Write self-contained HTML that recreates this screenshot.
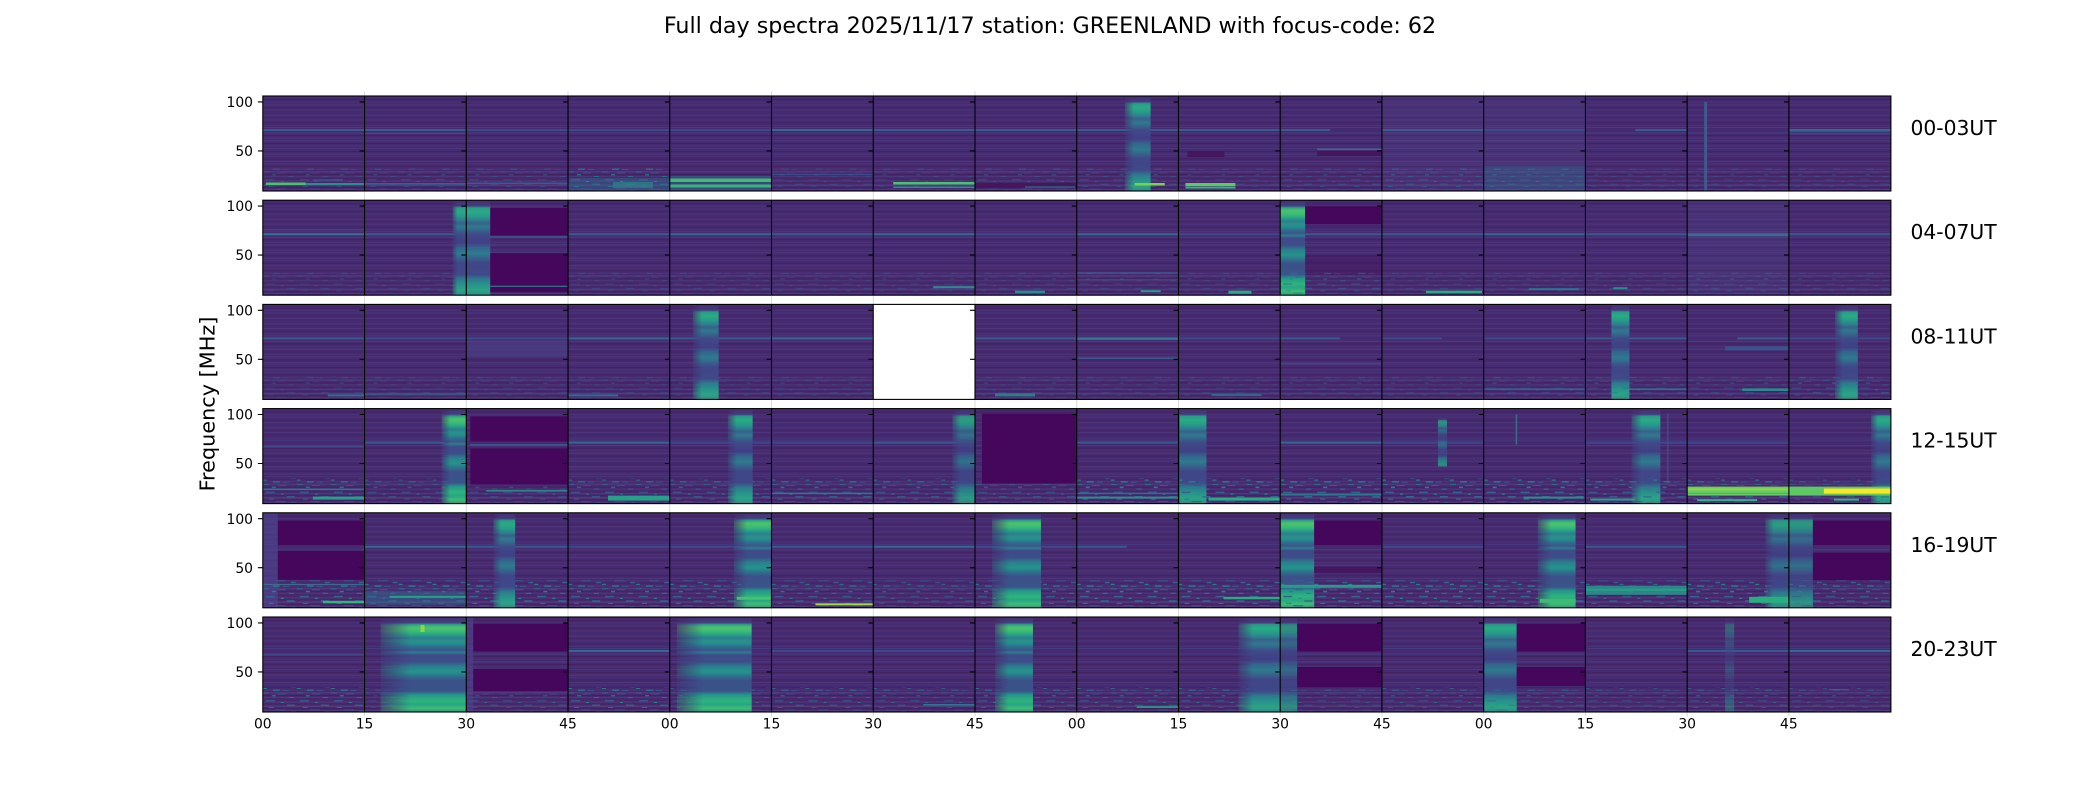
<!DOCTYPE html>
<html><head><meta charset="utf-8">
<style>
html,body{margin:0;padding:0;background:#fff;}
svg{display:block;}
text{font-family:"DejaVu Sans","Liberation Sans",sans-serif;fill:#000;}
.t{fill:url(#tx)} .b{fill:url(#bg)} .b2{fill:url(#bg2)} .d{fill:#45075b} .n{fill:url(#nz)}
.lb{fill:#33698d} .lm{fill:#3b598b} .ld{fill:#40488a} .k{fill:#43165e} .lt{fill:#55508f;opacity:.2}
</style></head><body>
<svg xmlns="http://www.w3.org/2000/svg" xmlns:xlink="http://www.w3.org/1999/xlink" width="2100" height="800" viewBox="0 0 2100 800">
<rect width="2100" height="800" fill="#fff"/>
<defs>
<pattern id="tx" patternUnits="userSpaceOnUse" width="101.74" height="95">
<rect width="102" height="95" fill="#462a70"/>
<rect y="0" width="102" height="1" fill="#4a3076"/>
<rect y="3" width="102" height="1" fill="#43215f"/>
<rect y="5.5" width="102" height="1" fill="#4b3379"/>
<rect y="8" width="102" height="1.5" fill="#4a3176"/>
<rect y="11" width="102" height="1" fill="#442462"/>
<rect y="13.5" width="102" height="1" fill="#4c3579"/>
<rect y="16" width="102" height="1" fill="#472b72"/>
<rect y="18.5" width="102" height="1.5" fill="#4b3379"/>
<rect y="21" width="102" height="1" fill="#442462"/>
<rect y="23.5" width="102" height="1" fill="#4c367b"/>
<rect y="26" width="102" height="1.5" fill="#44256a"/>
<rect y="29" width="102" height="1" fill="#4a3278"/>
<rect y="31" width="102" height="1" fill="#433a80"/>
<rect y="36.5" width="102" height="1" fill="#423e83"/>
<rect y="39" width="102" height="1" fill="#44215f"/>
<rect y="41.5" width="102" height="1" fill="#4b3378"/>
<rect y="44" width="102" height="1.5" fill="#4c367b"/>
<rect y="47" width="102" height="1" fill="#43225f"/>
<rect y="49.5" width="102" height="1" fill="#4a3278"/>
<rect y="52" width="102" height="1" fill="#4c367b"/>
<rect y="55" width="102" height="1" fill="#44235f"/>
<rect y="57.5" width="102" height="1.5" fill="#4b3479"/>
<rect y="60" width="102" height="1" fill="#493076"/>
<rect y="62.5" width="102" height="1" fill="#43205f"/>
<rect y="65" width="102" height="1" fill="#4c367b"/>
<rect y="67.5" width="102" height="1" fill="#4a3379"/>
<rect y="70" width="102" height="1" fill="#44225f"/>
<rect y="72.5" width="102" height="1" fill="#4b3479"/>
<rect y="75" width="102" height="1.5" fill="#4d387c"/>
<rect y="78" width="102" height="1" fill="#43215f"/>
<rect y="80" width="102" height="1" fill="#4b367b"/>
<rect y="82.5" width="102" height="1" fill="#45255f"/>
<rect y="84.5" width="102" height="1" fill="#4c3a7e"/>
<rect y="86.5" width="102" height="1" fill="#45245f"/>
<rect y="88.5" width="102" height="1.5" fill="#4d3b80"/>
<rect y="91" width="102" height="1" fill="#44205e"/>
<rect y="93" width="102" height="1" fill="#4c3a7e"/>
</pattern>
<pattern id="nz" patternUnits="userSpaceOnUse" width="34" height="25">
<rect x="0" y="0.5" width="6" height="1" fill="#2f6c8e"/>
<rect x="9" y="3" width="4" height="1.5" fill="#287d8e"/>
<rect x="15" y="1.5" width="8" height="1" fill="#3a598c"/>
<rect x="26" y="5" width="5" height="1" fill="#2a788e"/>
<rect x="3" y="8" width="9" height="1.5" fill="#33638d"/>
<rect x="18" y="10" width="3" height="1" fill="#21918c"/>
<rect x="24" y="12.5" width="8" height="1.5" fill="#2f6c8e"/>
<rect x="6" y="15" width="5" height="1" fill="#287d8e"/>
<rect x="13" y="17.5" width="10" height="1" fill="#3a598c"/>
<rect x="0" y="21" width="4" height="1" fill="#21918c"/>
<rect x="28" y="19" width="5" height="1.5" fill="#33638d"/>
<rect x="10" y="22.5" width="7" height="1.5" fill="#2a788e"/>
<rect x="20" y="23" width="6" height="1" fill="#3a598c"/>
</pattern>
<linearGradient id="bg" x1="0" y1="0" x2="0" y2="1">
<stop offset="0" stop-color="#47306f"/>
<stop offset="0.06" stop-color="#463a80"/>
<stop offset="0.08" stop-color="#2a9a88"/>
<stop offset="0.12" stop-color="#28ac82"/>
<stop offset="0.17" stop-color="#279a8a"/>
<stop offset="0.21" stop-color="#2e7f8e"/>
<stop offset="0.24" stop-color="#39608c"/>
<stop offset="0.28" stop-color="#2f7a8e"/>
<stop offset="0.32" stop-color="#37628c"/>
<stop offset="0.36" stop-color="#3f4a88"/>
<stop offset="0.45" stop-color="#413f86"/>
<stop offset="0.5" stop-color="#35648d"/>
<stop offset="0.56" stop-color="#2d7b8e"/>
<stop offset="0.61" stop-color="#37628c"/>
<stop offset="0.66" stop-color="#404688"/>
<stop offset="0.78" stop-color="#3f4888"/>
<stop offset="0.83" stop-color="#2e798e"/>
<stop offset="0.89" stop-color="#27948b"/>
<stop offset="0.95" stop-color="#2ba485"/>
<stop offset="1" stop-color="#2f8a8c"/>
</linearGradient>
<linearGradient id="bg2" x1="0" y1="0" x2="0" y2="1">
<stop offset="0" stop-color="#473070"/>
<stop offset="0.06" stop-color="#443f84"/>
<stop offset="0.08" stop-color="#2ba285"/>
<stop offset="0.11" stop-color="#4cc26c"/>
<stop offset="0.15" stop-color="#3dbb74"/>
<stop offset="0.19" stop-color="#24a08a"/>
<stop offset="0.22" stop-color="#2e7d8e"/>
<stop offset="0.25" stop-color="#2a8f8b"/>
<stop offset="0.28" stop-color="#228f8d"/>
<stop offset="0.31" stop-color="#2f6f8e"/>
<stop offset="0.35" stop-color="#3b548b"/>
<stop offset="0.37" stop-color="#2c7f8e"/>
<stop offset="0.40" stop-color="#3f4b89"/>
<stop offset="0.47" stop-color="#3e4c89"/>
<stop offset="0.52" stop-color="#2b7e8e"/>
<stop offset="0.58" stop-color="#24948b"/>
<stop offset="0.62" stop-color="#2d738e"/>
<stop offset="0.67" stop-color="#3c5089"/>
<stop offset="0.78" stop-color="#3a5489"/>
<stop offset="0.82" stop-color="#24968b"/>
<stop offset="0.88" stop-color="#2fb47c"/>
<stop offset="0.92" stop-color="#26a685"/>
<stop offset="0.96" stop-color="#3fbc73"/>
<stop offset="1" stop-color="#2a988a"/>
</linearGradient>
<linearGradient id="hf" x1="0" y1="0" x2="1" y2="0">
<stop offset="0" stop-color="#fff" stop-opacity=".25"/>
<stop offset=".35" stop-color="#fff" stop-opacity="1"/>
<stop offset="1" stop-color="#fff" stop-opacity="1"/>
</linearGradient>
<mask id="fade" maskContentUnits="objectBoundingBox"><rect width="1" height="1" fill="url(#hf)"/></mask>
<g id="grid">
<path d="M364.54 -4.5v4.5M466.28 -4.5v4.5M568.02 -4.5v4.5M669.76 -4.5v4.5M771.5 -4.5v4.5M873.24 -4.5v4.5M974.98 -4.5v4.5M1076.72 -4.5v4.5M1178.46 -4.5v4.5M1280.2 -4.5v4.5M1381.94 -4.5v4.5M1483.68 -4.5v4.5M1585.42 -4.5v4.5M1687.16 -4.5v4.5M1788.9 -4.5v4.5M364.54 95v4.5M466.28 95v4.5M568.02 95v4.5M669.76 95v4.5M771.5 95v4.5M873.24 95v4.5M974.98 95v4.5M1076.72 95v4.5M1178.46 95v4.5M1280.2 95v4.5M1381.94 95v4.5M1483.68 95v4.5M1585.42 95v4.5M1687.16 95v4.5M1788.9 95v4.5" stroke="#d9d9d9" stroke-width="1"/>
<rect x="262.8" y="0" width="1628.1" height="95" fill="none" stroke="#000" stroke-width="1.1"/>
<path d="M364.54 0v95M466.28 0v95M568.02 0v95M669.76 0v95M771.5 0v95M873.24 0v95M974.98 0v95M1076.72 0v95M1178.46 0v95M1280.2 0v95M1381.94 0v95M1483.68 0v95M1585.42 0v95M1687.16 0v95M1788.9 0v95" stroke="#000" stroke-width="1.1"/>
<path d="M257.9 5.9h4.9M257.9 54.9h4.9M359.64 5.9h4.9M359.64 54.9h4.9M461.38 5.9h4.9M461.38 54.9h4.9M563.12 5.9h4.9M563.12 54.9h4.9M664.86 5.9h4.9M664.86 54.9h4.9M766.6 5.9h4.9M766.6 54.9h4.9M868.34 5.9h4.9M868.34 54.9h4.9M970.08 5.9h4.9M970.08 54.9h4.9M1071.82 5.9h4.9M1071.82 54.9h4.9M1173.56 5.9h4.9M1173.56 54.9h4.9M1275.3 5.9h4.9M1275.3 54.9h4.9M1377.04 5.9h4.9M1377.04 54.9h4.9M1478.78 5.9h4.9M1478.78 54.9h4.9M1580.52 5.9h4.9M1580.52 54.9h4.9M1682.26 5.9h4.9M1682.26 54.9h4.9M1784 5.9h4.9M1784 54.9h4.9" stroke="#000" stroke-width="1.1"/>
</g>
</defs>

<text x="1050" y="33" font-size="22.2" text-anchor="middle">Full day spectra 2025/11/17 station: GREENLAND with focus-code: 62</text>

<!-- ROW 0 -->
<g transform="translate(262.8 96)"><rect class="t" width="101.74" height="95"/><rect class="lm" y="33" width="101.74" height="2"/><rect class="n" y="72" width="101.74" height="23" opacity=".4"/><rect x="3" y="86.5" width="40" height="2.5" fill="#4ac16d"/><rect x="43" y="87" width="58" height="2" fill="#2a8f8b"/><rect x="50" y="83.5" width="30" height="1" fill="#31688e"/></g>
<g transform="translate(364.54 96)"><rect class="t" width="101.74" height="95"/><rect class="lm" y="33" width="101.74" height="2"/><rect class="ld" y="37" width="101.74" height="1"/><rect class="n" y="72" width="101.74" height="23" opacity=".4"/><rect y="87" width="101.74" height="1.5" fill="#33638d"/></g>
<g transform="translate(466.28 96)"><rect class="t" width="101.74" height="95"/><rect class="ld" y="33" width="101.74" height="2"/><rect class="n" y="72" width="101.74" height="23" opacity=".4"/><rect y="86.5" width="101.74" height="1.5" fill="#3a598c"/></g>
<g transform="translate(568.02 96)"><rect class="t" width="101.74" height="95"/><rect class="ld" y="33" width="101.74" height="2"/><rect y="82" width="101.74" height="13" fill="#2f6c8e" opacity=".45"/><rect class="n" y="72" width="101.74" height="23" opacity=".8"/><rect x="45" y="86" width="40" height="6" fill="#2a8f8b" opacity=".6"/></g>
<g transform="translate(669.76 96)"><rect class="t" width="101.74" height="95"/><rect class="ld" y="33" width="101.74" height="2"/><rect y="80" width="101.74" height="15" fill="#31688e" opacity=".5"/><rect y="82.5" width="101.74" height="3.5" fill="#3fbc73"/><rect y="88.5" width="101.74" height="3" fill="#35b779"/></g>
<g transform="translate(771.5 96)"><rect class="t" width="101.74" height="95"/><rect class="lb" y="33" width="101.74" height="2"/><rect y="78" width="101.74" height="1" fill="#3f4a89"/><rect class="n" y="72" width="101.74" height="23" opacity=".3"/></g>
<g transform="translate(873.24 96)"><rect class="t" width="101.74" height="95"/><rect class="lm" y="33" width="101.74" height="2"/><rect class="n" y="72" width="101.74" height="23" opacity=".3"/><rect x="20" y="86" width="81.74" height="2.5" fill="#4ac16d"/><rect x="20" y="90.5" width="81.74" height="1.5" fill="#2a8f8b"/></g>
<g transform="translate(974.98 96)"><rect class="t" width="101.74" height="95"/><rect class="lm" y="33" width="101.74" height="2"/><rect class="n" y="72" width="101.74" height="23" opacity=".4"/><rect class="k" y="87" width="101.74" height="5"/><rect x="50" y="90" width="50" height="2" fill="#2a788e" opacity=".6"/></g>
<g transform="translate(1076.72 96)"><rect class="t" width="101.74" height="95"/><rect class="lm" y="33" width="101.74" height="2"/><rect class="n" y="72" width="101.74" height="23" opacity=".4"/><rect class="b" x="48" width="26" height="95" mask="url(#fade)"/><rect x="58" y="87" width="30" height="2.5" fill="#7ad151"/></g>
<g transform="translate(1178.46 96)"><rect class="t" width="101.74" height="95"/><rect class="lm" y="33" width="101.74" height="2"/><rect class="k" x="9" y="55" width="37" height="6"/><rect class="n" y="72" width="101.74" height="23" opacity=".3"/><rect x="7" y="87" width="50" height="3" fill="#5ec962"/><rect x="7" y="90.5" width="50" height="2" fill="#35b779"/></g>
<g transform="translate(1280.2 96)"><rect class="t" width="101.74" height="95"/><rect class="lm" y="33" width="50" height="2"/><rect x="37" y="52.5" width="64.74" height="1.5" fill="#3b6a8c"/><rect class="k" x="37" y="55" width="64.74" height="5"/><rect class="n" y="72" width="101.74" height="23" opacity=".4"/></g>
<g transform="translate(1381.94 96)"><rect class="t" width="101.74" height="95"/><rect class="lt" width="101.74" height="95"/><rect class="lm" y="33" width="101.74" height="2"/><rect class="n" y="72" width="101.74" height="23" opacity=".5"/></g>
<g transform="translate(1483.68 96)"><rect class="t" width="101.74" height="95"/><rect class="lt" width="101.74" height="95"/><rect y="70" width="101.74" height="25" fill="#2f6c8e" opacity=".35"/><rect class="ld" y="33" width="101.74" height="2"/><rect class="n" y="72" width="101.74" height="23" opacity=".5"/></g>
<g transform="translate(1585.42 96)"><rect class="t" width="101.74" height="95"/><rect class="lm" x="50" y="33" width="51.74" height="2"/><rect class="n" y="72" width="101.74" height="23" opacity=".3"/></g>
<g transform="translate(1687.16 96)"><rect class="t" width="101.74" height="95"/><rect x="17" y="6" width="3" height="89" fill="#3d5a8b"/><rect class="n" y="72" width="101.74" height="23" opacity=".3"/></g>
<g transform="translate(1788.9 96)"><rect class="t" width="101.74" height="95"/><rect class="lb" y="33" width="101.74" height="2.5"/><rect class="ld" y="37.5" width="101.74" height="1"/><rect class="n" y="72" width="101.74" height="23" opacity=".3"/></g>

<!-- ROW 1 -->
<g transform="translate(262.8 200.2)"><rect class="t" width="101.74" height="95"/><rect y="33" width="101.74" height="2" fill="#347290"/><rect class="ld" y="29" width="101.74" height="1"/><rect class="n" y="72" width="101.74" height="23" opacity=".3"/></g>
<g transform="translate(364.54 200.2)"><rect class="t" width="101.74" height="95"/><rect class="lm" y="33" width="101.74" height="2"/><rect class="n" y="72" width="101.74" height="23" opacity=".3"/><rect class="b" x="88" width="13.74" height="95" mask="url(#fade)"/></g>
<g transform="translate(466.28 200.2)"><rect class="t" width="101.74" height="95"/><rect class="b" width="24" height="95"/><rect class="d" x="24" y="7.8" width="77.74" height="27.5"/><rect class="d" x="24" y="52.9" width="77.74" height="39"/><rect x="24" y="85.5" width="77.74" height="1.2" fill="#2a788e"/><rect class="lm" x="24" y="36" width="77.74" height="1.5"/></g>
<g transform="translate(568.02 200.2)"><rect class="t" width="101.74" height="95"/><rect class="lm" y="33" width="101.74" height="2"/><rect class="n" y="72" width="101.74" height="23" opacity=".3"/></g>
<g transform="translate(669.76 200.2)"><rect class="t" width="101.74" height="95"/><rect class="lb" y="33" width="101.74" height="2"/><rect class="n" y="72" width="101.74" height="23" opacity=".3"/></g>
<g transform="translate(771.5 200.2)"><rect class="t" width="101.74" height="95"/><rect class="lm" y="33" width="101.74" height="2"/><rect class="n" y="72" width="101.74" height="23" opacity=".3"/></g>
<g transform="translate(873.24 200.2)"><rect class="t" width="101.74" height="95"/><rect class="lb" y="33" width="101.74" height="2"/><rect class="n" y="72" width="101.74" height="23" opacity=".3"/><rect x="60" y="86" width="41.74" height="2" fill="#2a8f8b"/></g>
<g transform="translate(974.98 200.2)"><rect class="t" width="101.74" height="95"/><rect class="ld" y="33" width="101.74" height="2"/><rect class="n" y="72" width="101.74" height="23" opacity=".3"/><rect x="40" y="90.5" width="30" height="2.5" fill="#21918c"/></g>
<g transform="translate(1076.72 200.2)"><rect class="t" width="101.74" height="95"/><rect class="lb" y="33" width="101.74" height="2"/><rect y="72" width="101.74" height="1.5" fill="#41548b"/><rect y="79" width="101.74" height="1" fill="#3f4a89"/><rect class="n" y="72" width="101.74" height="23" opacity=".3"/><rect x="64" y="90" width="20" height="2" fill="#2a9a88"/></g>
<g transform="translate(1178.46 200.2)"><rect class="t" width="101.74" height="95"/><rect class="ld" y="33" width="101.74" height="2"/><rect class="n" y="72" width="101.74" height="23" opacity=".3"/><rect x="50" y="90.5" width="23" height="3" fill="#27ad81"/></g>
<g transform="translate(1280.2 200.2)"><rect class="t" width="101.74" height="95"/><rect class="b2" width="25" height="95"/><rect class="d" x="25" y="6" width="76.74" height="18"/><rect class="lm" x="25" y="33" width="76.74" height="2"/><rect class="k" x="25" y="55" width="76.74" height="20" opacity=".5"/><rect class="n" y="72" width="101.74" height="23" opacity=".5"/></g>
<g transform="translate(1381.94 200.2)"><rect class="t" width="101.74" height="95"/><rect class="lm" y="33" width="101.74" height="2"/><rect class="n" y="72" width="101.74" height="23" opacity=".3"/><rect x="44" y="90.5" width="56" height="2.5" fill="#26ad81"/></g>
<g transform="translate(1483.68 200.2)"><rect class="t" width="101.74" height="95"/><rect class="lb" y="33" width="101.74" height="2"/><rect class="n" y="72" width="101.74" height="23" opacity=".3"/><rect x="45" y="88" width="50" height="2" fill="#2a788e"/></g>
<g transform="translate(1585.42 200.2)"><rect class="t" width="101.74" height="95"/><rect class="lm" y="33" width="101.74" height="2"/><rect class="n" y="72" width="101.74" height="23" opacity=".3"/><rect x="28" y="87" width="14" height="2" fill="#2a8f8b"/></g>
<g transform="translate(1687.16 200.2)"><rect class="t" width="101.74" height="95"/><rect class="lt" width="101.74" height="95"/><rect y="33" width="101.74" height="3" fill="#3a6a8e"/><rect class="n" y="72" width="101.74" height="23" opacity=".4"/></g>
<g transform="translate(1788.9 200.2)"><rect class="t" width="101.74" height="95"/><rect class="lm" y="33" width="101.74" height="2"/><rect class="n" y="72" width="101.74" height="23" opacity=".3"/></g>

<!-- ROW 2 -->
<g transform="translate(262.8 304.4)"><rect class="t" width="101.74" height="95"/><rect class="lm" y="33" width="101.74" height="2"/><rect class="n" y="72" width="101.74" height="23" opacity=".3"/><rect x="65" y="90" width="36.74" height="2" fill="#2f6c8e"/></g>
<g transform="translate(364.54 304.4)"><rect class="t" width="101.74" height="95"/><rect class="ld" y="33" width="101.74" height="2"/><rect y="89" width="101.74" height="2" fill="#33638d" opacity=".7"/><rect class="n" y="72" width="101.74" height="23" opacity=".3"/></g>
<g transform="translate(466.28 304.4)"><rect class="t" width="101.74" height="95"/><rect y="36" width="101.74" height="16" fill="#4b4287" opacity=".6"/><rect class="ld" y="33" width="101.74" height="2"/><rect class="n" y="72" width="101.74" height="23" opacity=".3"/></g>
<g transform="translate(568.02 304.4)"><rect class="t" width="101.74" height="95"/><rect class="lb" y="33" width="101.74" height="2"/><rect x="0" y="90" width="50" height="2" fill="#31688e"/><rect class="n" y="72" width="101.74" height="23" opacity=".3"/></g>
<g transform="translate(669.76 304.4)"><rect class="t" width="101.74" height="95"/><rect class="lm" y="33" width="101.74" height="2"/><rect class="n" y="72" width="101.74" height="23" opacity=".3"/><rect class="b" x="23" width="26" height="95" mask="url(#fade)"/></g>
<g transform="translate(771.5 304.4)"><rect class="t" width="101.74" height="95"/><rect class="lb" y="33" width="101.74" height="2"/><rect class="n" y="72" width="101.74" height="23" opacity=".3"/></g>
<g transform="translate(873.24 304.4)"><rect width="101.74" height="95" fill="#fff"/></g>
<g transform="translate(974.98 304.4)"><rect class="t" width="101.74" height="95"/><rect class="lm" y="33" width="101.74" height="2"/><rect class="n" y="72" width="101.74" height="23" opacity=".3"/><rect x="20" y="89" width="40" height="3" fill="#2a8f8b" opacity=".8"/></g>
<g transform="translate(1076.72 304.4)"><rect class="t" width="101.74" height="95"/><rect y="33" width="101.74" height="2.5" fill="#2f7a8e"/><rect y="53" width="101.74" height="1.5" fill="#3b5a8b"/><rect class="n" y="72" width="101.74" height="23" opacity=".3"/></g>
<g transform="translate(1178.46 304.4)"><rect class="t" width="101.74" height="95"/><rect class="ld" y="33" width="101.74" height="2"/><rect x="33" y="89.5" width="50" height="2" fill="#31688e"/><rect class="n" y="72" width="101.74" height="23" opacity=".3"/></g>
<g transform="translate(1280.2 304.4)"><rect class="t" width="101.74" height="95"/><rect class="lm" y="33" width="60" height="2"/><rect y="59" width="101.74" height="1" fill="#3f4c89"/><rect class="n" y="72" width="101.74" height="23" opacity=".3"/></g>
<g transform="translate(1381.94 304.4)"><rect class="t" width="101.74" height="95"/><rect class="ld" y="33" width="60" height="2"/><rect class="n" y="72" width="101.74" height="23" opacity=".3"/></g>
<g transform="translate(1483.68 304.4)"><rect class="t" width="101.74" height="95"/><rect class="ld" y="33" width="101.74" height="2"/><rect y="84" width="101.74" height="1.5" fill="#31688e"/><rect class="n" y="72" width="101.74" height="23" opacity=".4"/></g>
<g transform="translate(1585.42 304.4)"><rect class="t" width="101.74" height="95"/><rect class="lm" y="33" width="101.74" height="2"/><rect class="b" x="26" width="18" height="95"/><rect x="44" y="84" width="57.74" height="1.5" fill="#2a788e"/><rect class="n" y="72" width="101.74" height="23" opacity=".4"/></g>
<g transform="translate(1687.16 304.4)"><rect class="t" width="101.74" height="95"/><rect class="lm" x="50" y="33" width="51.74" height="2"/><rect x="38" y="42" width="63.74" height="4" fill="#3b528b"/><rect x="55" y="84" width="46.74" height="2.5" fill="#2a8f8b"/><rect class="n" y="72" width="101.74" height="23" opacity=".4"/></g>
<g transform="translate(1788.9 304.4)"><rect class="t" width="101.74" height="95"/><rect class="ld" y="33" width="101.74" height="2"/><rect class="n" y="72" width="101.74" height="23" opacity=".5"/><rect class="b" x="46" width="23" height="95" mask="url(#fade)"/></g>

<!-- ROW 3 -->
<g transform="translate(262.8 408.6)"><rect class="t" width="101.74" height="95"/><rect class="ld" y="37" width="101.74" height="2"/><rect y="80" width="101.74" height="1.5" fill="#2a788e"/><rect class="n" y="70" width="101.74" height="25" opacity=".8"/><rect x="50" y="88" width="51.74" height="3" fill="#25a18a"/></g>
<g transform="translate(364.54 408.6)"><rect class="t" width="101.74" height="95"/><rect class="lm" y="33" width="80" height="2"/><rect class="n" y="70" width="101.74" height="25" opacity=".6"/><rect class="b2" x="77" width="24.74" height="95" mask="url(#fade)"/></g>
<g transform="translate(466.28 408.6)"><rect class="t" width="101.74" height="95"/><rect class="d" x="4" y="7.8" width="97.74" height="25"/><rect class="d" x="4" y="40" width="97.74" height="36"/><rect class="lm" x="4" y="35.5" width="97.74" height="1.5"/><rect class="n" y="78" width="101.74" height="17" opacity=".5"/><rect x="20" y="81.5" width="81.74" height="1.5" fill="#2a8f8b"/></g>
<g transform="translate(568.02 408.6)"><rect class="t" width="101.74" height="95"/><rect class="lb" y="33" width="101.74" height="2"/><rect class="n" y="70" width="101.74" height="25" opacity=".7"/><rect x="40" y="87" width="61.74" height="5" fill="#25a18a"/></g>
<g transform="translate(669.76 408.6)"><rect class="t" width="101.74" height="95"/><rect class="ld" y="33" width="101.74" height="2"/><rect class="n" y="70" width="101.74" height="25" opacity=".7"/><rect class="b" x="58" width="25" height="95" mask="url(#fade)"/></g>
<g transform="translate(771.5 408.6)"><rect class="t" width="101.74" height="95"/><rect class="ld" y="33" width="101.74" height="2"/><rect y="84" width="101.74" height="1.5" fill="#2a788e"/><rect class="n" y="70" width="101.74" height="25" opacity=".8"/></g>
<g transform="translate(873.24 408.6)"><rect class="t" width="101.74" height="95"/><rect class="lm" y="33" width="101.74" height="2"/><rect class="n" y="70" width="101.74" height="25" opacity=".7"/><rect class="b" x="79" width="22.74" height="95" opacity=".9" mask="url(#fade)"/></g>
<g transform="translate(974.98 408.6)"><rect class="t" width="101.74" height="95"/><rect class="d" x="7" y="5" width="94.74" height="70"/><rect class="n" y="75" width="101.74" height="20" opacity=".6"/></g>
<g transform="translate(1076.72 408.6)"><rect class="t" width="101.74" height="95"/><rect class="lm" y="33" width="101.74" height="2"/><rect class="n" y="70" width="101.74" height="25"/><rect y="84" width="101.74" height="1.5" fill="#31688e"/><rect y="88" width="101.74" height="2" fill="#2a8f8b"/></g>
<g transform="translate(1178.46 408.6)"><rect class="t" width="101.74" height="95"/><rect class="b" x="1" width="27" height="95"/><rect class="n" y="70" width="101.74" height="25"/><rect x="30" y="89" width="71.74" height="3" fill="#27ad81"/></g>
<g transform="translate(1280.2 408.6)"><rect class="t" width="101.74" height="95"/><rect class="lb" y="33" width="101.74" height="2"/><rect class="n" y="70" width="101.74" height="25"/><rect y="85" width="101.74" height="2" fill="#2a788e"/></g>
<g transform="translate(1381.94 408.6)"><rect class="t" width="101.74" height="95"/><rect class="ld" y="33" width="101.74" height="2"/><rect class="b" x="56" y="8" width="9" height="50" opacity=".8"/><rect class="n" y="70" width="101.74" height="25"/></g>
<g transform="translate(1483.68 408.6)"><rect class="t" width="101.74" height="95"/><rect x="32" y="6" width="1.5" height="30" fill="#3b6a8c"/><rect class="n" y="70" width="101.74" height="25"/><rect x="40" y="88" width="60" height="2" fill="#2a8f8b"/></g>
<g transform="translate(1585.42 408.6)"><rect class="t" width="101.74" height="95"/><rect class="ld" y="33" width="101.74" height="2"/><rect class="b" x="46" width="29" height="95" mask="url(#fade)"/><rect x="82" y="5" width="1" height="70" fill="#3b5a8b"/><rect class="n" y="70" width="101.74" height="25" opacity=".8"/><rect x="5" y="90" width="45" height="2" fill="#25a18a"/></g>
<g transform="translate(1687.16 408.6)"><rect class="t" width="101.74" height="95"/><rect class="ld" y="33" width="101.74" height="2"/><rect class="n" y="70" width="101.74" height="25" opacity=".8"/><rect y="78" width="101.74" height="9" fill="#6ccd5a"/><rect y="80" width="101.74" height="1.5" fill="#a2da37" opacity=".8"/><rect y="84" width="101.74" height="1.5" fill="#3fbc73"/><rect x="10" y="90.5" width="60" height="2" fill="#2fb47c"/></g>
<g transform="translate(1788.9 408.6)"><rect class="t" width="101.74" height="95"/><rect class="b" x="82" width="19.74" height="95" mask="url(#fade)"/><rect class="n" y="70" width="101.74" height="25" opacity=".5"/><rect y="78" width="101.74" height="9" fill="#5ec962"/><rect x="35" y="80" width="66.74" height="5" fill="#fde725"/><rect x="45" y="90" width="25" height="2" fill="#2fb47c"/></g>

<!-- ROW 4 -->
<g transform="translate(262.8 512.8)"><rect class="t" width="101.74" height="95"/><rect width="15" height="95" fill="#4f4690" opacity=".6"/><rect class="d" x="15" y="7.8" width="86.74" height="24.5"/><rect class="d" x="15" y="38" width="86.74" height="29"/><rect class="n" y="67" width="101.74" height="28"/><rect y="71" width="101.74" height="1.2" fill="#3b6a8c"/><rect x="60" y="88" width="41.74" height="2.5" fill="#2fb47c"/></g>
<g transform="translate(364.54 512.8)"><rect class="t" width="101.74" height="95"/><rect class="lb" y="33" width="101.74" height="2"/><rect class="n" y="67" width="101.74" height="28"/><rect y="78" width="101.74" height="14" fill="#2f6c8e" opacity=".5"/><rect x="25" y="83" width="76.74" height="2" fill="#25a18a"/></g>
<g transform="translate(466.28 512.8)"><rect class="t" width="101.74" height="95"/><rect class="lm" y="33" width="101.74" height="2"/><rect class="n" y="67" width="101.74" height="28"/><rect class="b" x="27" width="22" height="95" mask="url(#fade)"/></g>
<g transform="translate(568.02 512.8)"><rect class="t" width="101.74" height="95"/><rect class="ld" y="33" width="101.74" height="2"/><rect class="n" y="67" width="101.74" height="28" opacity=".9"/></g>
<g transform="translate(669.76 512.8)"><rect class="t" width="101.74" height="95"/><rect class="ld" y="33" width="101.74" height="2"/><rect class="n" y="67" width="101.74" height="28" opacity=".9"/><rect class="b2" x="64" width="37.74" height="95" mask="url(#fade)"/><rect x="67" y="84" width="34.74" height="3" fill="#47c06f"/></g>
<g transform="translate(771.5 512.8)"><rect class="t" width="101.74" height="95"/><rect class="lm" y="33" width="101.74" height="2"/><rect class="n" y="67" width="101.74" height="28" opacity=".8"/><rect x="44" y="90.5" width="57.74" height="2" fill="#a2da37"/></g>
<g transform="translate(873.24 512.8)"><rect class="t" width="101.74" height="95"/><rect class="lb" y="33" width="101.74" height="2"/><rect class="n" y="67" width="101.74" height="28" opacity=".6"/></g>
<g transform="translate(974.98 512.8)"><rect class="t" width="101.74" height="95"/><rect class="ld" y="33" width="101.74" height="2"/><rect class="n" y="67" width="101.74" height="28" opacity=".8"/><rect class="b2" x="17" width="49" height="95" mask="url(#fade)"/></g>
<g transform="translate(1076.72 512.8)"><rect class="t" width="101.74" height="95"/><rect class="lm" y="33" width="50" height="2"/><rect class="n" y="67" width="101.74" height="28"/></g>
<g transform="translate(1178.46 512.8)"><rect class="t" width="101.74" height="95"/><rect class="n" y="67" width="101.74" height="28"/><rect x="45" y="84" width="56.74" height="2.5" fill="#27ad81"/></g>
<g transform="translate(1280.2 512.8)"><rect class="t" width="101.74" height="95"/><rect class="b2" width="34" height="95"/><rect class="d" x="34" y="7.8" width="67.74" height="24.5"/><rect class="k" x="34" y="54" width="67.74" height="6"/><rect class="n" y="67" width="101.74" height="28"/><rect y="72" width="101.74" height="3" fill="#2a9a88"/></g>
<g transform="translate(1381.94 512.8)"><rect class="t" width="101.74" height="95"/><rect class="ld" y="33" width="101.74" height="2"/><rect class="n" y="67" width="101.74" height="28"/></g>
<g transform="translate(1483.68 512.8)"><rect class="t" width="101.74" height="95"/><rect class="n" y="67" width="101.74" height="28"/><rect class="b2" x="54" width="38" height="95" mask="url(#fade)"/><rect x="56" y="86" width="36" height="4" fill="#3fbc73"/></g>
<g transform="translate(1585.42 512.8)"><rect class="t" width="101.74" height="95"/><rect class="lm" y="33" width="101.74" height="2"/><rect class="n" y="67" width="101.74" height="28" opacity=".8"/><rect y="73" width="101.74" height="9" fill="#2a8f8b" opacity=".9"/><rect y="76" width="101.74" height="2" fill="#22a884" opacity=".8"/></g>
<g transform="translate(1687.16 512.8)"><rect class="t" width="101.74" height="95"/><rect class="n" y="67" width="101.74" height="28"/><rect class="b" x="78" width="23.74" height="95" opacity=".9" mask="url(#fade)"/><rect x="62" y="84" width="39.74" height="6" fill="#29af7f"/></g>
<g transform="translate(1788.9 512.8)"><rect class="t" width="101.74" height="95"/><rect class="b" width="24" height="95" opacity=".85"/><rect class="d" x="24" y="7.8" width="77.74" height="24.5"/><rect class="d" x="24" y="40" width="77.74" height="27.5"/><rect class="n" y="67" width="101.74" height="28" opacity=".8"/></g>

<!-- ROW 5 -->
<g transform="translate(262.8 617)"><rect class="t" width="101.74" height="95"/><rect class="ld" y="37" width="101.74" height="1.5"/><rect class="n" y="70" width="101.74" height="25" opacity=".8"/></g>
<g transform="translate(364.54 617)"><rect class="t" width="101.74" height="95"/><rect class="n" y="70" width="101.74" height="25" opacity=".3"/><rect class="b2" x="16" width="85.74" height="95" mask="url(#fade)"/><rect x="56" y="8" width="4" height="7" fill="#a2da37" opacity=".8"/></g>
<g transform="translate(466.28 617)"><rect class="t" width="101.74" height="95"/><rect width="7" height="95" fill="#4f4690" opacity=".5"/><rect class="d" x="7" y="6.5" width="94.74" height="28"/><rect class="d" x="7" y="52" width="94.74" height="22"/><rect class="n" y="76" width="101.74" height="19" opacity=".5"/></g>
<g transform="translate(568.02 617)"><rect class="t" width="101.74" height="95"/><rect class="lb" y="33" width="101.74" height="2"/><rect class="n" y="70" width="101.74" height="25" opacity=".8"/></g>
<g transform="translate(669.76 617)"><rect class="t" width="101.74" height="95"/><rect class="n" y="70" width="101.74" height="25" opacity=".5"/><rect class="b2" x="7" width="75" height="95" mask="url(#fade)"/></g>
<g transform="translate(771.5 617)"><rect class="t" width="101.74" height="95"/><rect class="ld" y="33" width="101.74" height="2"/><rect class="n" y="70" width="101.74" height="25" opacity=".6"/></g>
<g transform="translate(873.24 617)"><rect class="t" width="101.74" height="95"/><rect class="ld" y="33" width="101.74" height="2"/><rect x="50" y="87" width="51.74" height="1.5" fill="#2a788e"/><rect class="n" y="70" width="101.74" height="25" opacity=".5"/></g>
<g transform="translate(974.98 617)"><rect class="t" width="101.74" height="95"/><rect class="n" y="70" width="101.74" height="25" opacity=".6"/><rect class="b2" x="20" width="38" height="95" mask="url(#fade)"/></g>
<g transform="translate(1076.72 617)"><rect class="t" width="101.74" height="95"/><rect class="n" y="70" width="101.74" height="25" opacity=".6"/><rect x="60" y="89" width="41.74" height="2" fill="#2a8f8b"/></g>
<g transform="translate(1178.46 617)"><rect class="t" width="101.74" height="95"/><rect class="n" y="70" width="101.74" height="25" opacity=".6"/><rect class="b" x="60" width="41.74" height="95" mask="url(#fade)"/></g>
<g transform="translate(1280.2 617)"><rect class="t" width="101.74" height="95"/><rect class="b" width="17" height="95" opacity=".8"/><rect class="d" x="17" y="6.5" width="84.74" height="28"/><rect class="d" x="17" y="50" width="84.74" height="20"/><rect class="n" y="72" width="101.74" height="23" opacity=".4"/></g>
<g transform="translate(1381.94 617)"><rect class="t" width="101.74" height="95"/><rect class="n" y="70" width="101.74" height="25" opacity=".5"/></g>
<g transform="translate(1483.68 617)"><rect class="t" width="101.74" height="95"/><rect class="b" width="33" height="95"/><rect class="d" x="33" y="6.5" width="68.74" height="28"/><rect class="d" x="33" y="50" width="68.74" height="19"/><rect class="n" y="72" width="101.74" height="23" opacity=".5"/></g>
<g transform="translate(1585.42 617)"><rect class="t" width="101.74" height="95"/><rect class="n" y="70" width="101.74" height="25" opacity=".4"/></g>
<g transform="translate(1687.16 617)"><rect class="t" width="101.74" height="95"/><rect class="lm" y="33" width="101.74" height="2"/><rect class="b" x="38" width="9" height="95" opacity=".45"/><rect class="n" y="70" width="101.74" height="25" opacity=".5"/></g>
<g transform="translate(1788.9 617)"><rect class="t" width="101.74" height="95"/><rect class="lb" y="33" width="101.74" height="2"/><rect x="40" y="72" width="20" height="1" fill="#3b5a8b"/><rect class="n" y="70" width="101.74" height="25" opacity=".4"/></g>

<!-- frames & ticks -->
<use xlink:href="#grid" href="#grid" y="96"/>
<use xlink:href="#grid" href="#grid" y="200.2"/>
<use xlink:href="#grid" href="#grid" y="304.4"/>
<use xlink:href="#grid" href="#grid" y="408.6"/>
<use xlink:href="#grid" href="#grid" y="512.8"/>
<use xlink:href="#grid" href="#grid" y="617"/>

<!-- y tick labels -->
<g font-size="13.9" text-anchor="end">
<text x="253" y="107">100</text><text x="253" y="156">50</text>
<text x="253" y="211.2">100</text><text x="253" y="260.2">50</text>
<text x="253" y="315.4">100</text><text x="253" y="364.4">50</text>
<text x="253" y="419.6">100</text><text x="253" y="468.6">50</text>
<text x="253" y="523.8">100</text><text x="253" y="572.8">50</text>
<text x="253" y="628">100</text><text x="253" y="677">50</text>
</g>

<!-- x tick labels -->
<g font-size="13.9" text-anchor="middle">
<text x="262.8" y="728.5">00</text><text x="364.54" y="728.5">15</text><text x="466.28" y="728.5">30</text><text x="568.02" y="728.5">45</text>
<text x="669.76" y="728.5">00</text><text x="771.5" y="728.5">15</text><text x="873.24" y="728.5">30</text><text x="974.98" y="728.5">45</text>
<text x="1076.72" y="728.5">00</text><text x="1178.46" y="728.5">15</text><text x="1280.2" y="728.5">30</text><text x="1381.94" y="728.5">45</text>
<text x="1483.68" y="728.5">00</text><text x="1585.42" y="728.5">15</text><text x="1687.16" y="728.5">30</text><text x="1788.9" y="728.5">45</text>
</g>

<!-- row labels -->
<g font-size="20.3">
<text x="1910.5" y="135">00-03UT</text>
<text x="1910.5" y="239.2">04-07UT</text>
<text x="1910.5" y="343.4">08-11UT</text>
<text x="1910.5" y="447.6">12-15UT</text>
<text x="1910.5" y="551.8">16-19UT</text>
<text x="1910.5" y="656">20-23UT</text>
</g>

<text transform="translate(214.5 404) rotate(-90)" font-size="20.8" text-anchor="middle">Frequency [MHz]</text>
</svg>
</body></html>
